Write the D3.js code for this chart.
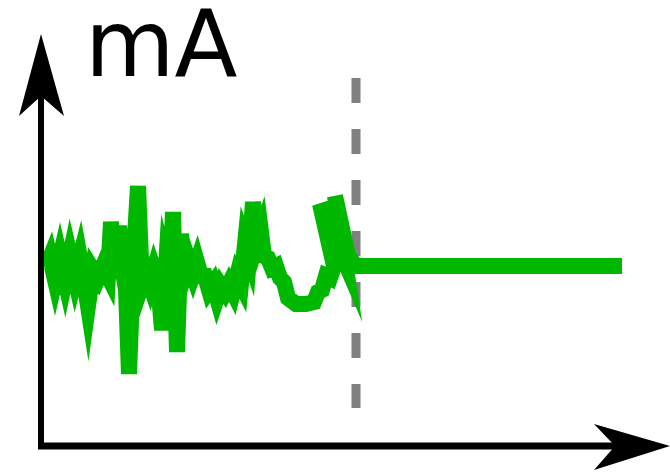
<!DOCTYPE html>
<html><head><meta charset="utf-8">
<script src="https://cdn.jsdelivr.net/npm/d3@7/dist/d3.min.js"></script>
<style>html,body{margin:0;padding:0;background:#fff;}svg{display:block;}</style>
</head><body>
<script>
// data (time units, current units)
const timeValues = [6,10,15,20,25,30,35,40,44,48,53,58,63,68,71,75,79,83,86,89,93,98,102,106,110,114,118,122,126,130,133,137,141,145,149,153,157,161,165,169,173,177,181,185,189,193,197,201,205,209,213,217,221,224,228,232,236,240,244,248,256,266,274,278,282,286,290,294,280,305,295,308,316,582];
const currentValues = [178,188,166,188,166,190,168,188,166,140,176,168,180,170,224,180,220,174,156,72,176,260,162,174,162,176,164,116,180,164,234,94,212,172,184,172,184,170,170,156,162,148,160,154,162,154,170,162,202,190,244,202,214,190,188,178,180,168,164,148,142,142,144,154,156,170,168,180,242,184,250,190,180,180];
const switchTime = [316];
const unitLabel = ["mA"];

const W = 670, H = 472;
const svg = d3.select("body").append("svg").attr("width", W).attr("height", H);

const x = d3.scaleLinear().domain([0, 630]).range([40, 670]);
const y = d3.scaleLinear().domain([0, 400]).range([446, 46]);

// dashed switch line
svg.append("line")
  .attr("x1", x(switchTime[0])).attr("x2", x(switchTime[0]))
  .attr("y1", 78).attr("y2", 408)
  .attr("stroke", "#808080").attr("stroke-width", 9)
  .attr("stroke-dasharray", "25,26");

// signal line
const line = d3.line().x((d, i) => x(timeValues[i])).y((d, i) => y(currentValues[i]));
svg.append("path")
  .attr("d", line(timeValues))
  .attr("fill", "none")
  .attr("stroke", "#00b800")
  .attr("stroke-width", 16)
  .attr("stroke-linejoin", "miter")
  .attr("stroke-miterlimit", 10);

// axes
const ax0 = x(1), ay0 = y(0);
svg.append("line").attr("x1", ax0).attr("x2", ax0).attr("y1", ay0 + 3).attr("y2", 90)
  .attr("stroke", "#000").attr("stroke-width", 6);
svg.append("line").attr("x1", ax0 - 3).attr("x2", 630).attr("y1", ay0).attr("y2", ay0)
  .attr("stroke", "#000").attr("stroke-width", 7);
// arrowheads
svg.append("path").attr("d", `M${ax0},34 L64,116 L${ax0},96 L19,116 Z`).attr("fill", "#000");
svg.append("path").attr("d", `M670,${ay0} L594,424 L615,${ay0} L594,470 Z`).attr("fill", "#000");

svg.append("text").attr("x", 85).attr("y", 76)
  .attr("font-family", "DejaVu Sans").attr("font-size", 92)
  .attr("fill", "#000").text(unitLabel[0]);
</script>
</body></html>
